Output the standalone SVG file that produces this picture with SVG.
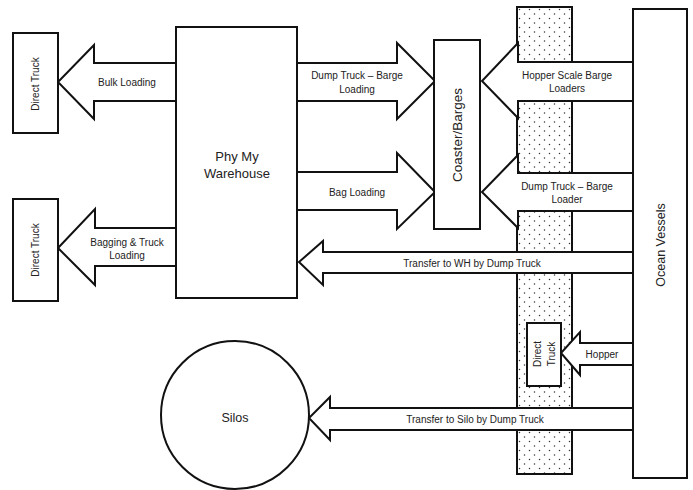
<svg xmlns="http://www.w3.org/2000/svg" width="693" height="490" viewBox="0 0 693 490">
<defs>
<pattern id="dots" x="517" y="7" width="10" height="9" patternUnits="userSpaceOnUse">
<rect width="10" height="9" fill="#fff"/>
<circle cx="2.5" cy="2.5" r="0.75" fill="#333"/>
<circle cx="7.5" cy="7" r="0.75" fill="#333"/>
</pattern>
<style>
.box{fill:#fff;stroke:#111;stroke-width:2}
.arr{fill:#fff;stroke:#111;stroke-width:2;stroke-linejoin:miter}
.t{font-family:"Liberation Sans",Arial,sans-serif;fill:#222;text-anchor:middle}
.s{font-size:10px}
</style>
</defs>
<rect width="693" height="490" fill="#fff"/>

<g id="strip">
<rect x="517" y="7" width="55" height="467" fill="url(#dots)" stroke="#111" stroke-width="2"/>
</g>

<g id="connectors">
<polygon class="arr" points="176,63 94,63 94,45 58,82 94,119 94,101 176,101"/>
<polygon class="arr" points="176,228 95,228 95,209 58,248 95,285 95,266 176,266"/>
<polygon class="arr" points="297,63 397,63 397,43 435,81 397,119 397,101 297,101"/>
<polygon class="arr" points="297,172 397,172 397,153 435,192 397,229 397,210 297,210"/>
<polygon class="arr" points="633,62 518,62 518,43 482,81 518,118 518,101 633,101"/>
<polygon class="arr" points="633,173 518,173 518,155 482,192 518,228 518,211 633,211"/>
<polygon class="arr" points="633,252 323,252 323,241 299,262 323,285 323,273 633,273"/>
<polygon class="arr" points="633,408 330,408 330,397 309,418 330,440 330,430 633,430"/>
<polygon class="arr" points="633,343 580,343 580,332 561,353 580,375 580,365 633,365"/>
<text class="t s" x="127" y="86">Bulk Loading</text>
<text class="t s" x="127" y="246">Bagging &amp; Truck</text>
<text class="t s" x="127" y="259">Loading</text>
<text class="t s" x="357" y="79">Dump Truck – Barge</text>
<text class="t s" x="357" y="93">Loading</text>
<text class="t s" x="357" y="196">Bag Loading</text>
<text class="t s" x="567" y="79">Hopper Scale Barge</text>
<text class="t s" x="567" y="92">Loaders</text>
<text class="t s" x="567" y="190">Dump Truck – Barge</text>
<text class="t s" x="567" y="203">Loader</text>
<text class="t s" x="472" y="267">Transfer to WH by Dump Truck</text>
<text class="t s" x="475" y="423">Transfer to Silo by Dump Truck</text>
<text class="t s" x="602" y="358">Hopper</text>
</g>

<g id="direct-truck-1">
<rect class="box" x="13" y="33" width="45" height="100"/>
<text class="t s" transform="translate(39,84) rotate(-90)">Direct Truck</text>
</g>
<g id="direct-truck-2">
<rect class="box" x="13" y="199" width="45" height="102"/>
<text class="t s" transform="translate(39,250) rotate(-90)">Direct Truck</text>
</g>
<g id="warehouse">
<rect class="box" x="176" y="27" width="121" height="271"/>
<text class="t" font-size="13" x="237" y="161">Phy My</text>
<text class="t" font-size="13" x="237" y="178">Warehouse</text>
</g>
<g id="coaster-barges">
<rect class="box" x="434" y="40" width="46" height="189"/>
<text class="t" font-size="13.5" transform="translate(462,135) rotate(-90)">Coaster/Barges</text>
</g>
<g id="ocean-vessels">
<rect class="box" x="633" y="9" width="54" height="469"/>
<text class="t" font-size="12.5" transform="translate(665,245) rotate(-90)">Ocean Vessels</text>
</g>
<g id="direct-truck-3">
<rect class="box" x="527" y="323" width="34" height="63"/>
<text class="t s" transform="translate(541,354) rotate(-90)">Direct</text>
<text class="t s" transform="translate(555,354) rotate(-90)">Truck</text>
</g>
<g id="silos">
<circle class="box" cx="235" cy="415" r="74"/>
<text class="t" font-size="12.5" x="235" y="422">Silos</text>
</g>
</svg>
